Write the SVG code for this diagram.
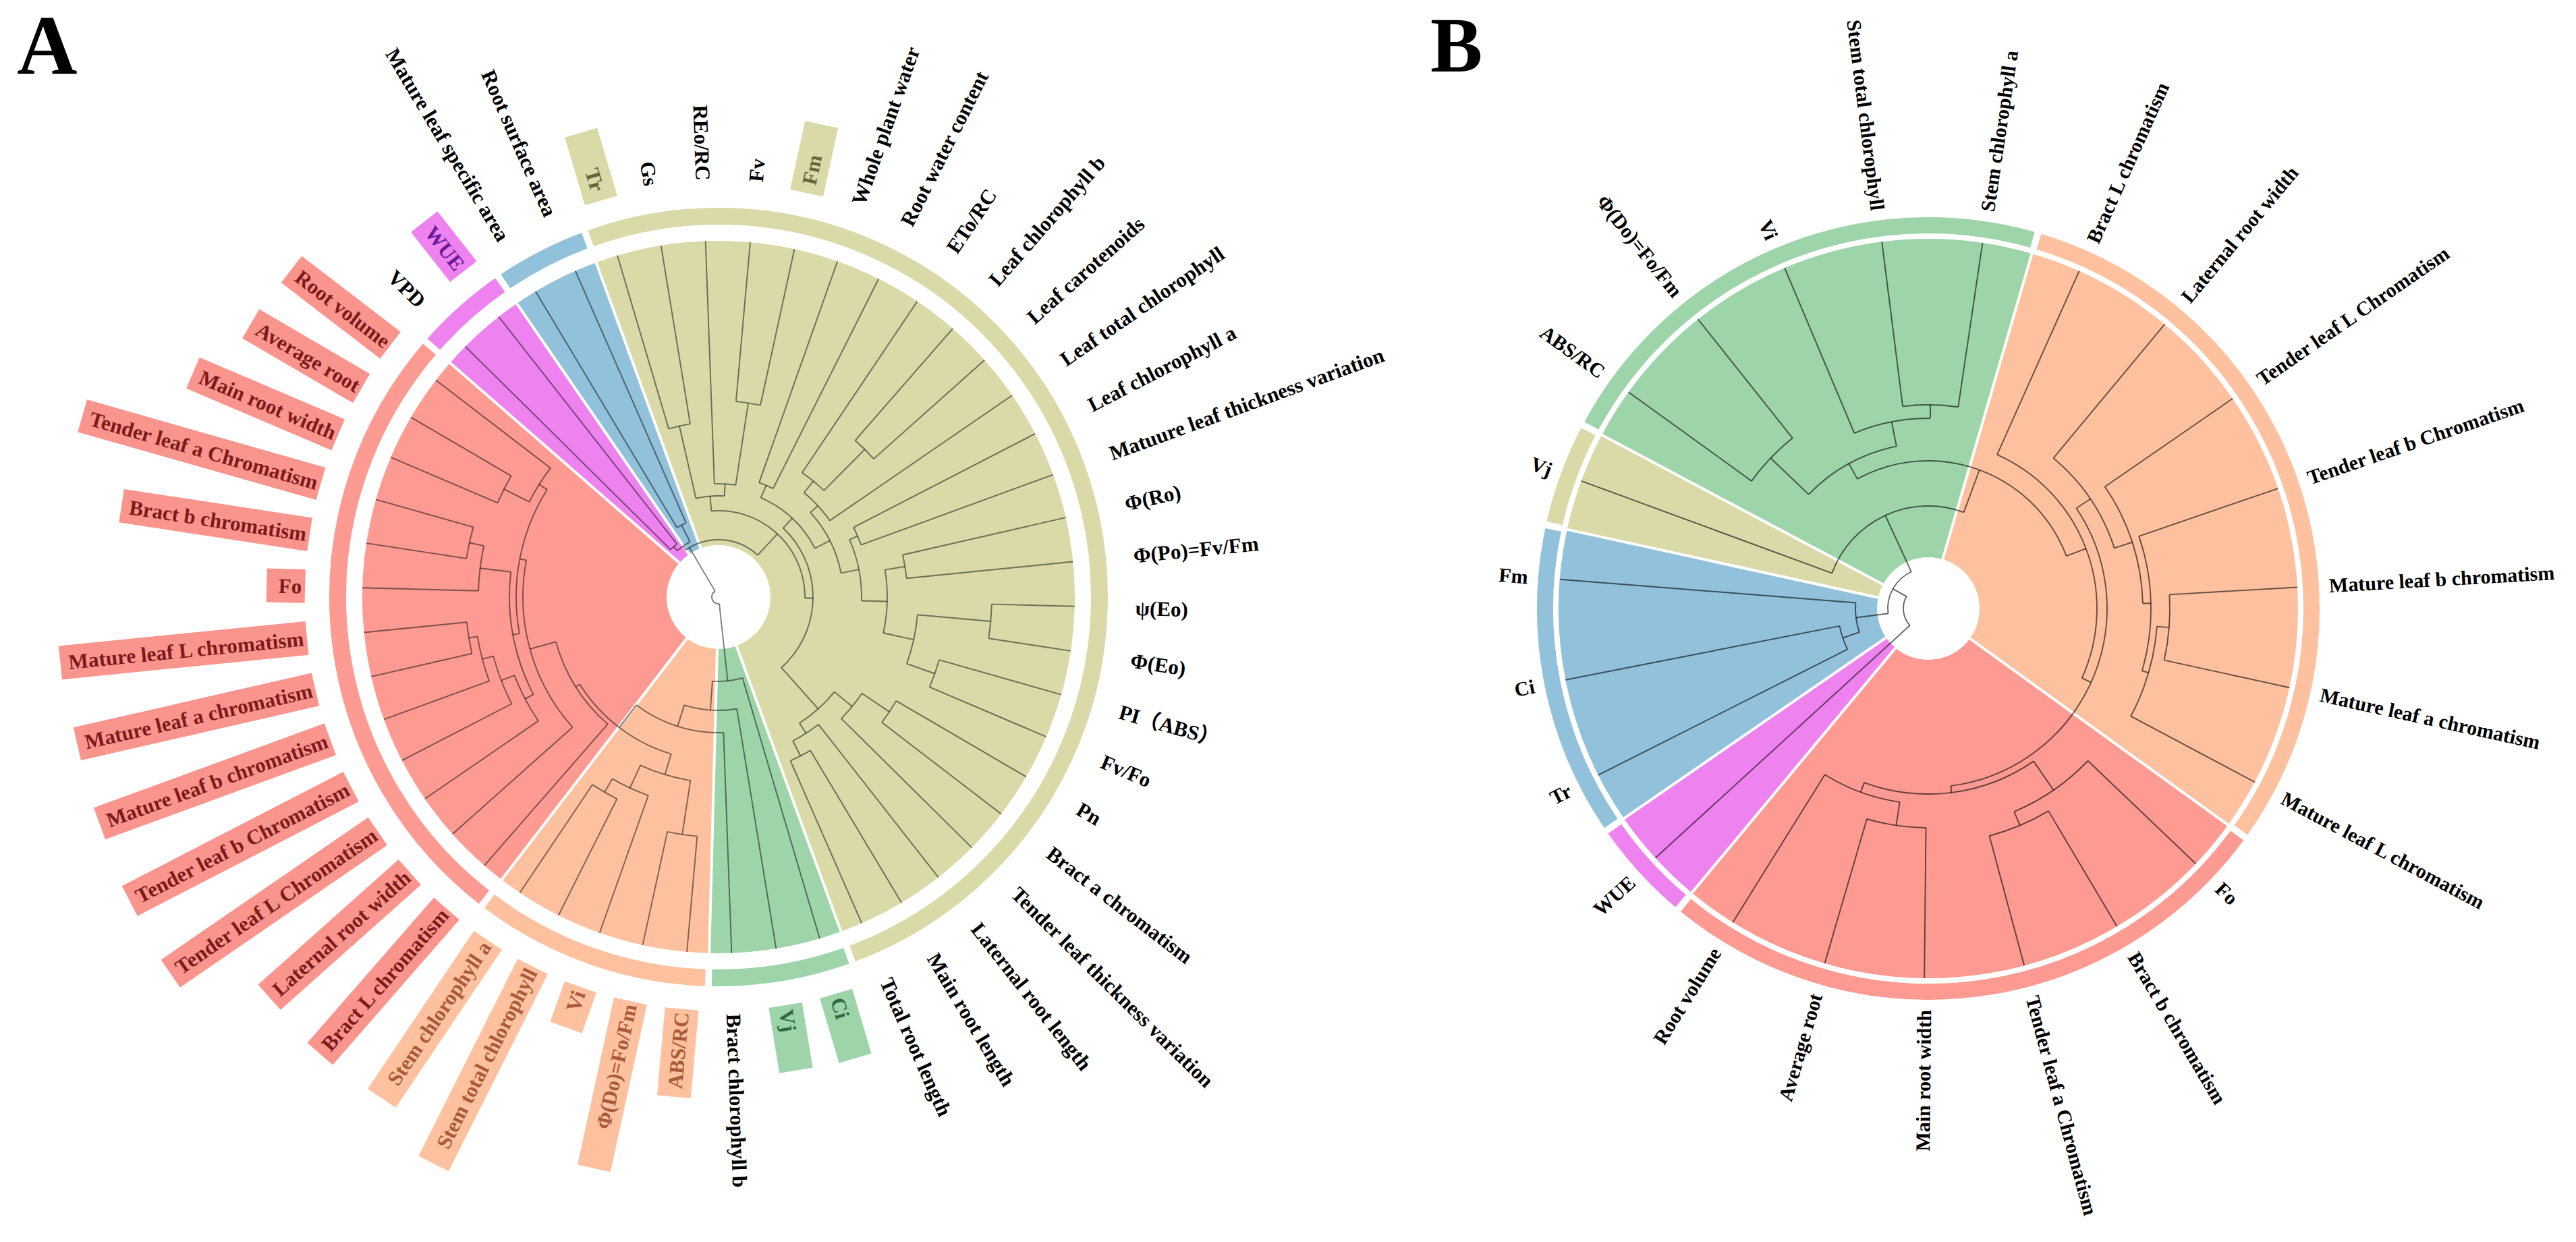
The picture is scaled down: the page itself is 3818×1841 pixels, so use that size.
<svg xmlns="http://www.w3.org/2000/svg" width="3818" height="1841" viewBox="0 0 3818 1841">
<style>
.lab{font-family:"Liberation Serif","Noto Sans CJK SC",serif;font-weight:700;fill:#000}
.la{font-size:31px}
.lb{font-size:30px}
.ttl{font-family:"Liberation Serif",serif;font-weight:700;fill:#000}
.w{fill:none}
.e{fill:none;stroke:#000;stroke-opacity:.5;stroke-width:1.9}
.eb{fill:none;stroke:#000;stroke-opacity:.6;stroke-width:1.9}
.sep{stroke:#fff;stroke-width:4}
.ring{fill:none}
.cR{stroke:#FD9A92}.cP{stroke:#FDC19F}.cG{stroke:#9DD4A9}.cO{stroke:#D9DAA8}.cB{stroke:#92C1DB}.cM{stroke:#EE82EE}
.bR{fill:#FA958E}.bP{fill:#FDC19F}.bG{fill:#9DD4A9}.bO{fill:#D9DAA8}.bM{fill:#EE82EE}
.tR{fill:#7D1A1A}.tP{fill:#A85A3A}.tG{fill:#2E6B45}.tO{fill:#66663A}.tM{fill:#6A1B9A}
</style>
<rect width="3818" height="1841" fill="#fff"/>
<text class="ttl" x="25" y="109" font-size="124">A</text>
<text class="ttl" x="2120" y="106" font-size="116">B</text>

<!-- ================= PANEL A ================= -->
<g id="panelA" transform="translate(1065,885) rotate(1.5)">
 <g id="A-clusters">
  <circle class="w cR" r="264" stroke-width="528" pathLength="360" stroke-dasharray="93.6 360" transform="rotate(126)"/>
  <circle class="w cM" r="264" stroke-width="528" pathLength="360" stroke-dasharray="14.4 360" transform="rotate(219.6)"/>
  <circle class="w cB" r="264" stroke-width="528" pathLength="360" stroke-dasharray="14.4 360" transform="rotate(234)"/>
  <circle class="w cO" r="264" stroke-width="528" pathLength="360" stroke-dasharray="180 360" transform="rotate(248.4)"/>
  <circle class="w cG" r="264" stroke-width="528" pathLength="360" stroke-dasharray="21.6 360" transform="rotate(68.4)"/>
  <circle class="w cP" r="264" stroke-width="528" pathLength="360" stroke-dasharray="36 360" transform="rotate(90)"/>
  <circle r="77" fill="#fff"/>
  <g class="sep">
   <line x1="77" x2="531" transform="rotate(126)"/>
   <line x1="77" x2="531" transform="rotate(219.6)"/>
   <line x1="77" x2="531" transform="rotate(234)"/>
   <line x1="77" x2="531" transform="rotate(248.4)"/>
   <line x1="77" x2="531" transform="rotate(68.4)"/>
   <line x1="77" x2="531" transform="rotate(90)"/>
  </g>
 </g>
 <g id="A-ring">
  <circle class="ring cG" r="564.5" stroke-width="25" pathLength="360" stroke-dasharray="20.6 360" transform="rotate(68.9)"/>
  <circle class="ring cP" r="564.5" stroke-width="25" pathLength="360" stroke-dasharray="35 360" transform="rotate(90.5)"/>
  <circle class="ring cR" r="564.5" stroke-width="25" pathLength="360" stroke-dasharray="92.6 360" transform="rotate(126.5)"/>
  <circle class="ring cM" r="564.5" stroke-width="25" pathLength="360" stroke-dasharray="13.4 360" transform="rotate(220.1)"/>
  <circle class="ring cB" r="564.5" stroke-width="25" pathLength="360" stroke-dasharray="13.4 360" transform="rotate(234.5)"/>
  <circle class="ring cO" r="564.5" stroke-width="25" pathLength="360" stroke-dasharray="179 360" transform="rotate(248.9)"/>
 </g>
 <g id="connectors-A" class="e">
  <line x1="260" x2="528" transform="rotate(252)"/>
  <line x1="260" x2="528" transform="rotate(259.2)"/>
  <line x1="168" x2="528" transform="rotate(266.4)"/>
  <line x1="291" x2="528" transform="rotate(273.6)"/>
  <line x1="291" x2="528" transform="rotate(280.8)"/>
  <line x1="180" x2="528" transform="rotate(288)"/>
  <line x1="180" x2="528" transform="rotate(295.2)"/>
  <line x1="222" x2="528" transform="rotate(302.4)"/>
  <line x1="308" x2="528" transform="rotate(309.6)"/>
  <line x1="308" x2="528" transform="rotate(316.8)"/>
  <line x1="200" x2="528" transform="rotate(324)"/>
  <line x1="225" x2="528" transform="rotate(331.2)"/>
  <line x1="225" x2="528" transform="rotate(338.4)"/>
  <line x1="280" x2="528" transform="rotate(345.6)"/>
  <line x1="280" x2="528" transform="rotate(352.8)"/>
  <line x1="405" x2="528" transform="rotate(360)"/>
  <line x1="405" x2="528" transform="rotate(367.2)"/>
  <line x1="340" x2="528" transform="rotate(374.4)"/>
  <line x1="340" x2="528" transform="rotate(381.6)"/>
  <line x1="305" x2="528" transform="rotate(388.8)"/>
  <line x1="305" x2="528" transform="rotate(396)"/>
  <line x1="256" x2="528" transform="rotate(403.2)"/>
  <line x1="240" x2="528" transform="rotate(410.4)"/>
  <line x1="265" x2="528" transform="rotate(417.6)"/>
  <line x1="265" x2="528" transform="rotate(424.8)"/>
  <line x1="125" x2="528" transform="rotate(72)"/>
  <line x1="168" x2="528" transform="rotate(79.2)"/>
  <line x1="201" x2="528" transform="rotate(86.4)"/>
  <line x1="356" x2="528" transform="rotate(93.6)"/>
  <line x1="356" x2="528" transform="rotate(100.8)"/>
  <line x1="312" x2="528" transform="rotate(108)"/>
  <line x1="335" x2="528" transform="rotate(115.2)"/>
  <line x1="335" x2="528" transform="rotate(122.4)"/>
  <line x1="250" x2="528" transform="rotate(129.6)"/>
  <line x1="290" x2="528" transform="rotate(136.8)"/>
  <line x1="324" x2="528" transform="rotate(144)"/>
  <line x1="345" x2="528" transform="rotate(151.2)"/>
  <line x1="362" x2="528" transform="rotate(158.4)"/>
  <line x1="375" x2="528" transform="rotate(165.6)"/>
  <line x1="375" x2="528" transform="rotate(172.8)"/>
  <line x1="356" x2="528" transform="rotate(180)"/>
  <line x1="378" x2="528" transform="rotate(187.2)"/>
  <line x1="378" x2="528" transform="rotate(194.4)"/>
  <line x1="356" x2="528" transform="rotate(201.6)"/>
  <line x1="356" x2="528" transform="rotate(208.8)"/>
  <line x1="314" x2="528" transform="rotate(216)"/>
  <line x1="100" x2="528" transform="rotate(223.2)"/>
  <line x1="100" x2="528" transform="rotate(230.4)"/>
  <line x1="120" x2="528" transform="rotate(237.6)"/>
  <line x1="120" x2="528" transform="rotate(244.8)"/>
  <line x1="150" x2="260" transform="rotate(255.6)"/>
  <line x1="168" x2="291" transform="rotate(277.2)"/>
  <line x1="150" x2="168" transform="rotate(271.8)"/>
  <line x1="128" x2="150" transform="rotate(263.7)"/>
  <line x1="160" x2="180" transform="rotate(291.6)"/>
  <line x1="222" x2="308" transform="rotate(313.2)"/>
  <line x1="200" x2="222" transform="rotate(307.8)"/>
  <line x1="185" x2="200" transform="rotate(315.9)"/>
  <line x1="212" x2="225" transform="rotate(334.8)"/>
  <line x1="250" x2="280" transform="rotate(349.2)"/>
  <line x1="296" x2="405" transform="rotate(363.6)"/>
  <line x1="296" x2="340" transform="rotate(378)"/>
  <line x1="250" x2="296" transform="rotate(370.8)"/>
  <line x1="212" x2="250" transform="rotate(360)"/>
  <line x1="185" x2="212" transform="rotate(347.4)"/>
  <line x1="160" x2="185" transform="rotate(331.65)"/>
  <line x1="140" x2="160" transform="rotate(311.6)"/>
  <line x1="256" x2="305" transform="rotate(392.4)"/>
  <line x1="222" x2="256" transform="rotate(397.8)"/>
  <line x1="240" x2="265" transform="rotate(421.2)"/>
  <line x1="222" x2="240" transform="rotate(415.8)"/>
  <line x1="140" x2="222" transform="rotate(406.8)"/>
  <line x1="128" x2="140" transform="rotate(359.2)"/>
  <line x1="85" x2="128" transform="rotate(311.45)"/>
  <line x1="92" x2="100" transform="rotate(226.8)"/>
  <line x1="92" x2="120" transform="rotate(241.2)"/>
  <line x1="85" x2="92" transform="rotate(234)"/>
  <line x1="312" x2="335" transform="rotate(118.8)"/>
  <line x1="275" x2="312" transform="rotate(113.4)"/>
  <line x1="275" x2="356" transform="rotate(97.2)"/>
  <line x1="243" x2="275" transform="rotate(105.3)"/>
  <line x1="314" x2="356" transform="rotate(205.2)"/>
  <line x1="300" x2="314" transform="rotate(210.6)"/>
  <line x1="356" x2="378" transform="rotate(190.8)"/>
  <line x1="310" x2="356" transform="rotate(185.4)"/>
  <line x1="362" x2="375" transform="rotate(169.2)"/>
  <line x1="345" x2="362" transform="rotate(163.8)"/>
  <line x1="324" x2="345" transform="rotate(157.5)"/>
  <line x1="310" x2="324" transform="rotate(150.75)"/>
  <line x1="300" x2="310" transform="rotate(168.1)"/>
  <line x1="290" x2="300" transform="rotate(189.35)"/>
  <line x1="250" x2="290" transform="rotate(163.1)"/>
  <line x1="243" x2="250" transform="rotate(146.35)"/>
  <line x1="201" x2="243" transform="rotate(125.8)"/>
  <line x1="168" x2="201" transform="rotate(106.1)"/>
  <line x1="125" x2="168" transform="rotate(92.65)"/>
  <line x1="10" x2="125" transform="rotate(82.3)"/>
  <line x1="10" x2="85" transform="rotate(238)"/>
  <circle r="260" pathLength="360" stroke-dasharray="7.2 360" transform="rotate(252)"/>
  <circle r="291" pathLength="360" stroke-dasharray="7.2 360" transform="rotate(273.6)"/>
  <circle r="168" pathLength="360" stroke-dasharray="10.8 360" transform="rotate(266.4)"/>
  <circle r="150" pathLength="360" stroke-dasharray="16.2 360" transform="rotate(255.6)"/>
  <circle r="180" pathLength="360" stroke-dasharray="7.2 360" transform="rotate(288)"/>
  <circle r="308" pathLength="360" stroke-dasharray="7.2 360" transform="rotate(309.6)"/>
  <circle r="222" pathLength="360" stroke-dasharray="10.8 360" transform="rotate(302.4)"/>
  <circle r="200" pathLength="360" stroke-dasharray="16.2 360" transform="rotate(307.8)"/>
  <circle r="225" pathLength="360" stroke-dasharray="7.2 360" transform="rotate(331.2)"/>
  <circle r="280" pathLength="360" stroke-dasharray="7.2 360" transform="rotate(345.6)"/>
  <circle r="405" pathLength="360" stroke-dasharray="7.2 360" transform="rotate(360)"/>
  <circle r="340" pathLength="360" stroke-dasharray="7.2 360" transform="rotate(374.4)"/>
  <circle r="296" pathLength="360" stroke-dasharray="14.4 360" transform="rotate(363.6)"/>
  <circle r="250" pathLength="360" stroke-dasharray="21.6 360" transform="rotate(349.2)"/>
  <circle r="212" pathLength="360" stroke-dasharray="25.2 360" transform="rotate(334.8)"/>
  <circle r="185" pathLength="360" stroke-dasharray="31.5 360" transform="rotate(315.9)"/>
  <circle r="160" pathLength="360" stroke-dasharray="40.05 360" transform="rotate(291.6)"/>
  <circle r="305" pathLength="360" stroke-dasharray="7.2 360" transform="rotate(388.8)"/>
  <circle r="256" pathLength="360" stroke-dasharray="10.8 360" transform="rotate(392.4)"/>
  <circle r="265" pathLength="360" stroke-dasharray="7.2 360" transform="rotate(417.6)"/>
  <circle r="240" pathLength="360" stroke-dasharray="10.8 360" transform="rotate(410.4)"/>
  <circle r="222" pathLength="360" stroke-dasharray="18 360" transform="rotate(397.8)"/>
  <circle r="140" pathLength="360" stroke-dasharray="95.2 360" transform="rotate(311.6)"/>
  <circle r="128" pathLength="360" stroke-dasharray="95.5 360" transform="rotate(263.7)"/>
  <circle r="100" pathLength="360" stroke-dasharray="7.2 360" transform="rotate(223.2)"/>
  <circle r="120" pathLength="360" stroke-dasharray="7.2 360" transform="rotate(237.6)"/>
  <circle r="92" pathLength="360" stroke-dasharray="14.4 360" transform="rotate(226.8)"/>
  <circle r="85" pathLength="360" stroke-dasharray="77.45 360" transform="rotate(234)"/>
  <circle r="335" pathLength="360" stroke-dasharray="7.2 360" transform="rotate(115.2)"/>
  <circle r="312" pathLength="360" stroke-dasharray="10.8 360" transform="rotate(108)"/>
  <circle r="356" pathLength="360" stroke-dasharray="7.2 360" transform="rotate(93.6)"/>
  <circle r="275" pathLength="360" stroke-dasharray="16.2 360" transform="rotate(97.2)"/>
  <circle r="356" pathLength="360" stroke-dasharray="7.2 360" transform="rotate(201.6)"/>
  <circle r="314" pathLength="360" stroke-dasharray="10.8 360" transform="rotate(205.2)"/>
  <circle r="378" pathLength="360" stroke-dasharray="7.2 360" transform="rotate(187.2)"/>
  <circle r="356" pathLength="360" stroke-dasharray="10.8 360" transform="rotate(180)"/>
  <circle r="375" pathLength="360" stroke-dasharray="7.2 360" transform="rotate(165.6)"/>
  <circle r="362" pathLength="360" stroke-dasharray="10.8 360" transform="rotate(158.4)"/>
  <circle r="345" pathLength="360" stroke-dasharray="12.6 360" transform="rotate(151.2)"/>
  <circle r="324" pathLength="360" stroke-dasharray="13.5 360" transform="rotate(144)"/>
  <circle r="310" pathLength="360" stroke-dasharray="34.65 360" transform="rotate(150.75)"/>
  <circle r="300" pathLength="360" stroke-dasharray="42.5 360" transform="rotate(168.1)"/>
  <circle r="290" pathLength="360" stroke-dasharray="52.55 360" transform="rotate(136.8)"/>
  <circle r="250" pathLength="360" stroke-dasharray="33.5 360" transform="rotate(129.6)"/>
  <circle r="243" pathLength="360" stroke-dasharray="41.05 360" transform="rotate(105.3)"/>
  <circle r="201" pathLength="360" stroke-dasharray="39.4 360" transform="rotate(86.4)"/>
  <circle r="168" pathLength="360" stroke-dasharray="26.9 360" transform="rotate(79.2)"/>
  <circle r="125" pathLength="360" stroke-dasharray="20.65 360" transform="rotate(72)"/>
  <circle r="10" pathLength="360" stroke-dasharray="155.7 360" transform="rotate(82.3)"/>
 </g>
 <g id="A-labels" class="lab la">
  <g id="A-Fv" transform="rotate(-86.4)"><text x="618" dy=".35em">Fv</text></g>
  <g id="A-Fm" transform="rotate(-79.2)"><rect class="bO" x="613" y="-25" width="104" height="50"/><text class="tO" x="626" dy=".35em" textLength="44.8" lengthAdjust="spacingAndGlyphs">Fm</text></g>
  <g id="A-WPW" transform="rotate(-72)"><text x="618" dy=".35em">Whole plant water</text></g>
  <g id="A-RWC" transform="rotate(-64.8)"><text x="618" dy=".35em">Root water content</text></g>
  <g id="A-ETo" transform="rotate(-57.6)"><text x="618" dy=".35em">ETo/RC</text></g>
  <g id="A-Chlb" transform="rotate(-50.4)"><text x="618" dy=".35em">Leaf chlorophyll b</text></g>
  <g id="A-Car" transform="rotate(-43.2)"><text x="618" dy=".35em">Leaf carotenoids</text></g>
  <g id="A-TChl" transform="rotate(-36)"><text x="618" dy=".35em">Leaf total chlorophyll</text></g>
  <g id="A-Chla" transform="rotate(-28.8)"><text x="618" dy=".35em">Leaf chlorophyll a</text></g>
  <g id="A-Mat" transform="rotate(-21.6)"><text x="618" dy=".35em">Matuure leaf thickness variation</text></g>
  <g id="A-PhiRo" transform="rotate(-14.4)"><text x="618" dy=".35em">Φ(Ro)</text></g>
  <g id="A-PhiPo" transform="rotate(-7.2)"><text x="618" dy=".35em">Φ(Po)=Fv/Fm</text></g>
  <g id="A-Psi" transform="rotate(0)"><text x="618" dy=".35em">ψ(Eo)</text></g>
  <g id="A-PhiEo" transform="rotate(7.2)"><text x="618" dy=".35em">Φ(Eo)</text></g>
  <g id="A-PI" transform="rotate(14.4)"><text x="618" dy=".35em">PI（ABS）</text></g>
  <g id="A-FvFo" transform="rotate(21.6)"><text x="618" dy=".35em">Fv/Fo</text></g>
  <g id="A-Pn" transform="rotate(28.8)"><text x="618" dy=".35em">Pn</text></g>
  <g id="A-BrA" transform="rotate(36)"><text x="618" dy=".35em">Bract a chromatism</text></g>
  <g id="A-TLT" transform="rotate(43.2)"><text x="618" dy=".35em">Tender leaf thickness variation</text></g>
  <g id="A-LRL" transform="rotate(50.4)"><text x="618" dy=".35em">Laternal root length</text></g>
  <g id="A-MRL" transform="rotate(57.6)"><text x="618" dy=".35em">Main root length</text></g>
  <g id="A-TRL" transform="rotate(64.8)"><text x="618" dy=".35em">Total root length</text></g>
  <g id="A-Ci" transform="rotate(72)"><rect class="bG" x="613" y="-25" width="100" height="50"/><text class="tG" x="620" dy=".35em" textLength="31" lengthAdjust="spacingAndGlyphs">Ci</text></g>
  <g id="A-Vj" transform="rotate(79.2)"><rect class="bG" x="613" y="-25" width="98" height="50"/><text class="tG" x="620" dy=".35em" textLength="32.7" lengthAdjust="spacingAndGlyphs">Vj</text></g>
  <g id="A-BrChlb" transform="rotate(86.4)"><text x="618" dy=".35em">Bract chlorophyll b</text></g>
  <g id="A-ABS" transform="rotate(-86.4)"><rect class="bP" x="-743.7" y="-25" width="130.7" height="50"/><text class="tP" x="-618" dy=".35em" text-anchor="end" textLength="113.7" lengthAdjust="spacingAndGlyphs">ABS/RC</text></g>
  <g id="A-PhiDo" transform="rotate(-79.2)"><rect class="bP" x="-866.8" y="-25" width="253.8" height="50"/><text class="tP" x="-618" dy=".35em" text-anchor="end" textLength="188.8" lengthAdjust="spacingAndGlyphs">Φ(Do)=Fo/Fm</text></g>
  <g id="A-Vi" transform="rotate(-72)"><rect class="bP" x="-677" y="-25" width="64" height="50"/><text class="tP" x="-620" dy=".35em" text-anchor="end" textLength="31" lengthAdjust="spacingAndGlyphs">Vi</text></g>
  <g id="A-StemT" transform="rotate(-64.8)"><rect class="bP" x="-940" y="-25" width="327" height="50"/><text class="tP" x="-618" dy=".35em" text-anchor="end" textLength="294.5" lengthAdjust="spacingAndGlyphs">Stem total chlorophyll</text></g>
  <g id="A-StemA" transform="rotate(-57.6)"><rect class="bP" x="-895" y="-25" width="282" height="50"/><text class="tP" x="-618" dy=".35em" text-anchor="end" textLength="249.7" lengthAdjust="spacingAndGlyphs">Stem chlorophyll a</text></g>
  <g id="A-BrL" transform="rotate(-50.4)"><rect class="bR" x="-898.6" y="-25" width="285.6" height="50"/><text class="tR" x="-618" dy=".35em" text-anchor="end" textLength="268.6" lengthAdjust="spacingAndGlyphs">Bract L chromatism</text></g>
  <g id="A-LRW" transform="rotate(-43.2)"><rect class="bR" x="-891.8" y="-25" width="278.8" height="50"/><text class="tR" x="-618" dy=".35em" text-anchor="end" textLength="261.8" lengthAdjust="spacingAndGlyphs">Laternal root width</text></g>
  <g id="A-TLL" transform="rotate(-36)"><rect class="bR" x="-985.6" y="-25" width="372.6" height="50"/><text class="tR" x="-618" dy=".35em" text-anchor="end" textLength="355.6" lengthAdjust="spacingAndGlyphs">Tender leaf L Chromatism</text></g>
  <g id="A-TLb" transform="rotate(-28.8)"><rect class="bR" x="-982.2" y="-25" width="369.2" height="50"/><text class="tR" x="-618" dy=".35em" text-anchor="end" textLength="352.2" lengthAdjust="spacingAndGlyphs">Tender leaf b Chromatism</text></g>
  <g id="A-MLb" transform="rotate(-21.6)"><rect class="bR" x="-977" y="-25" width="364" height="50"/><text class="tR" x="-618" dy=".35em" text-anchor="end" textLength="347" lengthAdjust="spacingAndGlyphs">Mature leaf b chromatism</text></g>
  <g id="A-MLa" transform="rotate(-14.4)"><rect class="bR" x="-975.2" y="-25" width="362.2" height="50"/><text class="tR" x="-618" dy=".35em" text-anchor="end" textLength="345.2" lengthAdjust="spacingAndGlyphs">Mature leaf a chromatism</text></g>
  <g id="A-MLL" transform="rotate(-7.2)"><rect class="bR" x="-980.4" y="-25" width="367.4" height="50"/><text class="tR" x="-618" dy=".35em" text-anchor="end" textLength="350.4" lengthAdjust="spacingAndGlyphs">Mature leaf L chromatism</text></g>
  <g id="A-Fo" transform="rotate(0)"><rect class="bR" x="-670" y="-25" width="57" height="50"/><text class="tR" x="-618" dy=".35em" text-anchor="end" textLength="34.4" lengthAdjust="spacingAndGlyphs">Fo</text></g>
  <g id="A-BrB" transform="rotate(7.2)"><rect class="bR" x="-895.2" y="-25" width="282.2" height="50"/><text class="tR" x="-618" dy=".35em" text-anchor="end" textLength="265.2" lengthAdjust="spacingAndGlyphs">Bract b chromatism</text></g>
  <g id="A-TLa" transform="rotate(14.4)"><rect class="bR" x="-980.4" y="-25" width="367.4" height="50"/><text class="tR" x="-618" dy=".35em" text-anchor="end" textLength="350.4" lengthAdjust="spacingAndGlyphs">Tender leaf a Chromatism</text></g>
  <g id="A-MRW" transform="rotate(21.6)"><rect class="bR" x="-847" y="-25" width="234" height="50"/><text class="tR" x="-618" dy=".35em" text-anchor="end" textLength="217" lengthAdjust="spacingAndGlyphs">Main root width</text></g>
  <g id="A-AvR" transform="rotate(28.8)"><rect class="bR" x="-803" y="-25" width="190" height="50"/><text class="tR" x="-618" dy=".35em" text-anchor="end" textLength="173" lengthAdjust="spacingAndGlyphs">Average root</text></g>
  <g id="A-RV" transform="rotate(36)"><rect class="bR" x="-797.9" y="-25" width="184.9" height="50"/><text class="tR" x="-618" dy=".35em" text-anchor="end" textLength="167.9" lengthAdjust="spacingAndGlyphs">Root volume</text></g>
  <g id="A-VPD" transform="rotate(43.2)"><text x="-618" dy=".35em" text-anchor="end">VPD</text></g>
  <g id="A-WUE" transform="rotate(50.4)"><rect class="bM" x="-707" y="-25" width="94" height="50"/><text class="tM" x="-620" dy=".35em" text-anchor="end" textLength="74.1" lengthAdjust="spacingAndGlyphs">WUE</text></g>
  <g id="A-MLSA" transform="rotate(57.6)"><text x="-618" dy=".35em" text-anchor="end">Mature leaf specific area</text></g>
  <g id="A-RSA" transform="rotate(64.8)"><text x="-618" dy=".35em" text-anchor="end">Root surface area</text></g>
  <g id="A-Tr" transform="rotate(72)"><rect class="bO" x="-718" y="-25" width="105" height="50"/><text class="tO" x="-628" dy=".35em" text-anchor="end" textLength="34.4" lengthAdjust="spacingAndGlyphs">Tr</text></g>
  <g id="A-Gs" transform="rotate(79.2)"><text x="-618" dy=".35em" text-anchor="end">Gs</text></g>
  <g id="A-REo" transform="rotate(86.4)"><text x="-618" dy=".35em" text-anchor="end">REo/RC</text></g>
 </g>
</g>

<!-- ================= PANEL B ================= -->
<g id="panelB" transform="translate(2858,902)">
 <g id="B-clusters">
  <circle class="w cP" r="274" stroke-width="548" pathLength="360" stroke-dasharray="109.57 360" transform="rotate(286.27)"/>
  <circle class="w cR" r="274" stroke-width="548" pathLength="360" stroke-dasharray="93.92 360" transform="rotate(35.83)"/>
  <circle class="w cM" r="274" stroke-width="548" pathLength="360" stroke-dasharray="15.65 360" transform="rotate(129.75)"/>
  <circle class="w cB" r="274" stroke-width="548" pathLength="360" stroke-dasharray="46.95 360" transform="rotate(145.4)"/>
  <circle class="w cO" r="274" stroke-width="548" pathLength="360" stroke-dasharray="15.65 360" transform="rotate(192.35)"/>
  <circle class="w cG" r="274" stroke-width="548" pathLength="360" stroke-dasharray="78.27 360" transform="rotate(208)"/>
  <circle r="76" fill="#fff"/>
  <g class="sep">
   <line x1="76" x2="551" transform="rotate(35.83)"/>
   <line x1="76" x2="551" transform="rotate(129.75)"/>
   <line x1="76" x2="551" transform="rotate(145.4)"/>
   <line x1="76" x2="551" transform="rotate(192.35)"/>
   <line x1="76" x2="551" transform="rotate(208)"/>
   <line x1="76" x2="551" transform="rotate(286.27)"/>
  </g>
 </g>
 <g id="B-ring">
  <circle class="ring cR" r="568" stroke-width="24" pathLength="360" stroke-dasharray="92.92 360" transform="rotate(36.33)"/>
  <circle class="ring cM" r="568" stroke-width="24" pathLength="360" stroke-dasharray="14.65 360" transform="rotate(130.25)"/>
  <circle class="ring cB" r="568" stroke-width="24" pathLength="360" stroke-dasharray="45.95 360" transform="rotate(145.9)"/>
  <circle class="ring cO" r="568" stroke-width="24" pathLength="360" stroke-dasharray="14.65 360" transform="rotate(192.85)"/>
  <circle class="ring cG" r="568" stroke-width="24" pathLength="360" stroke-dasharray="77.27 360" transform="rotate(208.5)"/>
  <circle class="ring cP" r="568" stroke-width="24" pathLength="360" stroke-dasharray="108.57 360" transform="rotate(286.77)"/>
 </g>
 <g id="connectors-B" class="eb">
  <line x1="358" x2="548" transform="rotate(356.7)"/>
  <line x1="358" x2="548" transform="rotate(12.35)"/>
  <line x1="340" x2="548" transform="rotate(28)"/>
  <line x1="327" x2="548" transform="rotate(43.66)"/>
  <line x1="349" x2="548" transform="rotate(59.31)"/>
  <line x1="349" x2="548" transform="rotate(74.96)"/>
  <line x1="325" x2="548" transform="rotate(90.61)"/>
  <line x1="325" x2="548" transform="rotate(106.27)"/>
  <line x1="290" x2="548" transform="rotate(121.92)"/>
  <line x1="37" x2="548" transform="rotate(137.57)"/>
  <line x1="134" x2="548" transform="rotate(153.22)"/>
  <line x1="134" x2="548" transform="rotate(168.87)"/>
  <line x1="108" x2="548" transform="rotate(184.53)"/>
  <line x1="152" x2="548" transform="rotate(200.18)"/>
  <line x1="323" x2="548" transform="rotate(215.83)"/>
  <line x1="323" x2="548" transform="rotate(231.48)"/>
  <line x1="282" x2="548" transform="rotate(247.14)"/>
  <line x1="302" x2="548" transform="rotate(262.79)"/>
  <line x1="302" x2="548" transform="rotate(278.44)"/>
  <line x1="250" x2="548" transform="rotate(294.09)"/>
  <line x1="290" x2="548" transform="rotate(309.75)"/>
  <line x1="318" x2="548" transform="rotate(325.4)"/>
  <line x1="330" x2="548" transform="rotate(341.05)"/>
  <line x1="282" x2="302" transform="rotate(270.6)"/>
  <line x1="245" x2="282" transform="rotate(258.9)"/>
  <line x1="245" x2="323" transform="rotate(223.65)"/>
  <line x1="219" x2="245" transform="rotate(241.3)"/>
  <line x1="340" x2="358" transform="rotate(364.5)"/>
  <line x1="330" x2="340" transform="rotate(376.25)"/>
  <line x1="318" x2="330" transform="rotate(358.65)"/>
  <line x1="290" x2="318" transform="rotate(342)"/>
  <line x1="265" x2="290" transform="rotate(325.9)"/>
  <line x1="327" x2="349" transform="rotate(427.1)"/>
  <line x1="275" x2="327" transform="rotate(415.4)"/>
  <line x1="290" x2="325" transform="rotate(458.4)"/>
  <line x1="275" x2="290" transform="rotate(470.2)"/>
  <line x1="265" x2="275" transform="rotate(442.8)"/>
  <line x1="250" x2="265" transform="rotate(384.35)"/>
  <line x1="219" x2="250" transform="rotate(339.2)"/>
  <line x1="152" x2="219" transform="rotate(290.25)"/>
  <line x1="60" x2="152" transform="rotate(245.2)"/>
  <line x1="108" x2="134" transform="rotate(161.05)"/>
  <line x1="60" x2="108" transform="rotate(172.8)"/>
  <line x1="37" x2="60" transform="rotate(209)"/>
  <circle r="302" pathLength="360" stroke-dasharray="15.65 360" transform="rotate(262.79)"/>
  <circle r="282" pathLength="360" stroke-dasharray="23.46 360" transform="rotate(247.14)"/>
  <circle r="323" pathLength="360" stroke-dasharray="15.65 360" transform="rotate(215.83)"/>
  <circle r="245" pathLength="360" stroke-dasharray="35.25 360" transform="rotate(223.65)"/>
  <circle r="358" pathLength="360" stroke-dasharray="15.65 360" transform="rotate(356.7)"/>
  <circle r="340" pathLength="360" stroke-dasharray="23.5 360" transform="rotate(364.5)"/>
  <circle r="330" pathLength="360" stroke-dasharray="35.2 360" transform="rotate(341.05)"/>
  <circle r="318" pathLength="360" stroke-dasharray="33.25 360" transform="rotate(325.4)"/>
  <circle r="290" pathLength="360" stroke-dasharray="32.25 360" transform="rotate(309.75)"/>
  <circle r="349" pathLength="360" stroke-dasharray="15.65 360" transform="rotate(419.31)"/>
  <circle r="327" pathLength="360" stroke-dasharray="23.44 360" transform="rotate(403.66)"/>
  <circle r="325" pathLength="360" stroke-dasharray="15.66 360" transform="rotate(450.61)"/>
  <circle r="290" pathLength="360" stroke-dasharray="23.52 360" transform="rotate(458.4)"/>
  <circle r="275" pathLength="360" stroke-dasharray="54.8 360" transform="rotate(415.4)"/>
  <circle r="265" pathLength="360" stroke-dasharray="116.9 360" transform="rotate(325.9)"/>
  <circle r="250" pathLength="360" stroke-dasharray="90.26 360" transform="rotate(294.09)"/>
  <circle r="219" pathLength="360" stroke-dasharray="97.9 360" transform="rotate(241.3)"/>
  <circle r="152" pathLength="360" stroke-dasharray="90.07 360" transform="rotate(200.18)"/>
  <circle r="134" pathLength="360" stroke-dasharray="15.65 360" transform="rotate(153.22)"/>
  <circle r="108" pathLength="360" stroke-dasharray="23.48 360" transform="rotate(161.05)"/>
  <circle r="60" pathLength="360" stroke-dasharray="72.4 360" transform="rotate(172.8)"/>
  <circle r="37" pathLength="360" stroke-dasharray="71.43 360" transform="rotate(137.57)"/>
 </g>
 <g id="B-labels" class="lab lb">
  <g id="B-MLb" transform="rotate(-3.3)"><text x="595" dy=".35em">Mature leaf b chromatism</text></g>
  <g id="B-MLa" transform="rotate(12.35)"><text x="595" dy=".35em">Mature leaf a chromatism</text></g>
  <g id="B-MLL" transform="rotate(28)"><text x="595" dy=".35em">Mature leaf L chromatism</text></g>
  <g id="B-Fo" transform="rotate(43.66)"><text x="595" dy=".35em">Fo</text></g>
  <g id="B-BrB" transform="rotate(59.31)"><text x="595" dy=".35em">Bract b chromatism</text></g>
  <g id="B-TLa" transform="rotate(74.96)"><text x="595" dy=".35em">Tender leaf a Chromatism</text></g>
  <g id="B-StemA" transform="rotate(-81.56)"><text x="595" dy=".35em">Stem chlorophyll a</text></g>
  <g id="B-BrL" transform="rotate(-65.91)"><text x="595" dy=".35em">Bract L chromatism</text></g>
  <g id="B-LRW" transform="rotate(-50.25)"><text x="595" dy=".35em">Laternal root width</text></g>
  <g id="B-TLL" transform="rotate(-34.6)"><text x="595" dy=".35em">Tender leaf L Chromatism</text></g>
  <g id="B-TLb" transform="rotate(-18.95)"><text x="595" dy=".35em">Tender leaf b Chromatism</text></g>
  <g id="B-MRW" transform="rotate(-89.39)"><text x="-595" dy=".35em" text-anchor="end">Main root width</text></g>
  <g id="B-AvR" transform="rotate(-73.73)"><text x="-595" dy=".35em" text-anchor="end">Average root</text></g>
  <g id="B-RV" transform="rotate(-58.08)"><text x="-595" dy=".35em" text-anchor="end">Root volume</text></g>
  <g id="B-WUE" transform="rotate(-42.43)"><text x="-595" dy=".35em" text-anchor="end">WUE</text></g>
  <g id="B-Tr" transform="rotate(-26.78)"><text x="-595" dy=".35em" text-anchor="end">Tr</text></g>
  <g id="B-Ci" transform="rotate(-11.13)"><text x="-595" dy=".35em" text-anchor="end">Ci</text></g>
  <g id="B-Fm" transform="rotate(4.53)"><text x="-595" dy=".35em" text-anchor="end">Fm</text></g>
  <g id="B-Vj" transform="rotate(20.18)"><text x="-595" dy=".35em" text-anchor="end">Vj</text></g>
  <g id="B-ABS" transform="rotate(35.83)"><text x="-595" dy=".35em" text-anchor="end">ABS/RC</text></g>
  <g id="B-PhiDo" transform="rotate(51.48)"><text x="-595" dy=".35em" text-anchor="end">Φ(Do)=Fo/Fm</text></g>
  <g id="B-Vi" transform="rotate(67.14)"><text x="-595" dy=".35em" text-anchor="end">Vi</text></g>
  <g id="B-StemT" transform="rotate(82.79)"><text x="-595" dy=".35em" text-anchor="end">Stem total chlorophyll</text></g>
 </g>
</g>
</svg>
